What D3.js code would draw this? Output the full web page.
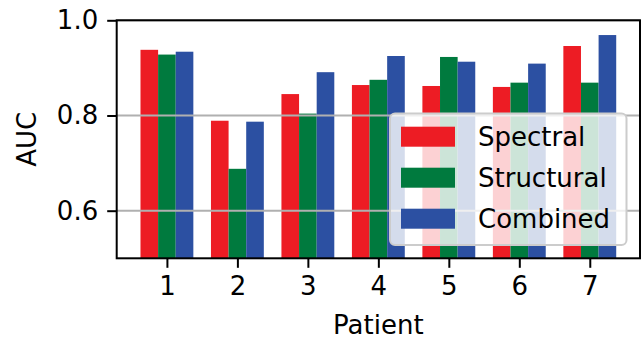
<!DOCTYPE html>
<html lang="en">
<head>
    <meta charset="UTF-8">
    <script type="text/javascript" src="https://d3js.org/d3.v7.min.js"></script>
    <title>AUC per patient</title>
    <style>
        body { margin: 0; background: white; }
        text { font-family: "DejaVu Sans", sans-serif; }
    </style>
</head>
<body>
    <svg id="plot"></svg>

    <script type="text/javascript">
    // data
    var patients = [1, 2, 3, 4, 5, 6, 7];
    var seriesNames = ["Spectral", "Structural", "Combined"];
    var spectral   = [0.938, 0.789, 0.845, 0.864, 0.862, 0.860, 0.946];
    var structural = [0.928, 0.688, 0.804, 0.875, 0.923, 0.869, 0.869];
    var combined   = [0.934, 0.787, 0.891, 0.925, 0.913, 0.909, 0.969];
    var yTicks = [0.6, 0.8, 1.0];

    const colors = ["#ED1C24", "#007A3E", "#2C50A2"];
    const series = [spectral, structural, combined];

    const width = 643;
    const height = 340;
    const margin = {"top": 20.3, "bottom": 81.7, "left": 116.7, "right": 3};
    const barW = 0.25;

    const svg = d3.select("#plot").attr("width", width).attr("height", height);

    // matplotlib style auto limits: bars span 0.625..7.375, plus 5% margin
    const x = d3.scaleLinear()
        .domain([0.2875, 7.7125])
        .range([margin.left, width - margin.right]);

    const y = d3.scaleLinear()
        .domain([0.5, 1.0])
        .range([height - margin.bottom, margin.top]);

    // bars
    series.forEach((vals, s) => {
        svg.append("g").attr("fill", colors[s])
            .selectAll("rect").data(vals)
            .enter().append("rect")
            .attr("x", (d, i) => x(patients[i] + (s - 1) * barW - barW / 2))
            .attr("width", x(barW) - x(0))
            .attr("y", d => y(d))
            .attr("height", d => y(0.5) - y(d));
    });

    // grid on top of the bars
    svg.append("g").selectAll("line").data(yTicks)
        .enter().append("line")
        .attr("x1", margin.left).attr("x2", width - margin.right)
        .attr("y1", d => y(d)).attr("y2", d => y(d))
        .attr("stroke", "#b0b0b0").attr("stroke-width", 2);

    // axes
    var x_axis = d3.axisBottom(x).tickValues(patients).tickFormat(d3.format("d"))
        .tickSizeInner(9.5).tickSizeOuter(0).tickPadding(9);
    svg.append("g").attr("transform", `translate(0, ${height - margin.bottom})`).call(x_axis)
        .call(g => g.select(".domain").remove())
        .call(g => g.selectAll("line").attr("stroke", "black").attr("stroke-width", 2))
        .call(g => g.selectAll("text").attr("font-size", 26).attr("font-family", "DejaVu Sans").attr("fill", "black"));

    var y_axis = d3.axisLeft(y).tickValues(yTicks).tickFormat(d3.format(".1f"))
        .tickSizeInner(9.5).tickSizeOuter(0).tickPadding(9);
    svg.append("g").attr("transform", `translate(${margin.left}, 0)`).call(y_axis)
        .call(g => g.select(".domain").remove())
        .call(g => g.selectAll("line").attr("stroke", "black").attr("stroke-width", 2))
        .call(g => g.selectAll("text").attr("font-size", 26).attr("font-family", "DejaVu Sans").attr("fill", "black"));

    // frame
    svg.append("rect")
        .attr("x", margin.left).attr("y", margin.top)
        .attr("width", width - margin.right - margin.left)
        .attr("height", height - margin.bottom - margin.top)
        .attr("fill", "none").attr("stroke", "black").attr("stroke-width", 2);

    // axis labels
    svg.append("text")
        .attr("x", (margin.left + width - margin.right) / 2).attr("y", 334)
        .attr("text-anchor", "middle").attr("font-size", 26)
        .text("Patient");
    svg.append("text")
        .attr("transform", `translate(36, ${(margin.top + height - margin.bottom) / 2}) rotate(-90)`)
        .attr("text-anchor", "middle").attr("font-size", 26)
        .text("AUC");

    // legend
    const leg = svg.append("g").attr("transform", "translate(390, 113.5)");
    leg.append("rect").attr("width", 236.5).attr("height", 131.5).attr("rx", 5)
        .attr("fill", "white").attr("fill-opacity", 0.8)
        .attr("stroke", "#cccccc").attr("stroke-width", 2);
    seriesNames.forEach((name, i) => {
        const cy = 23.2 + i * 41;
        leg.append("rect").attr("x", 11).attr("y", cy - 10)
            .attr("width", 54).attr("height", 20).attr("fill", colors[i]);
        leg.append("text").attr("x", 88).attr("y", cy + 9.5)
            .attr("font-size", 26).text(name);
    });
    </script>
</body>
</html>
